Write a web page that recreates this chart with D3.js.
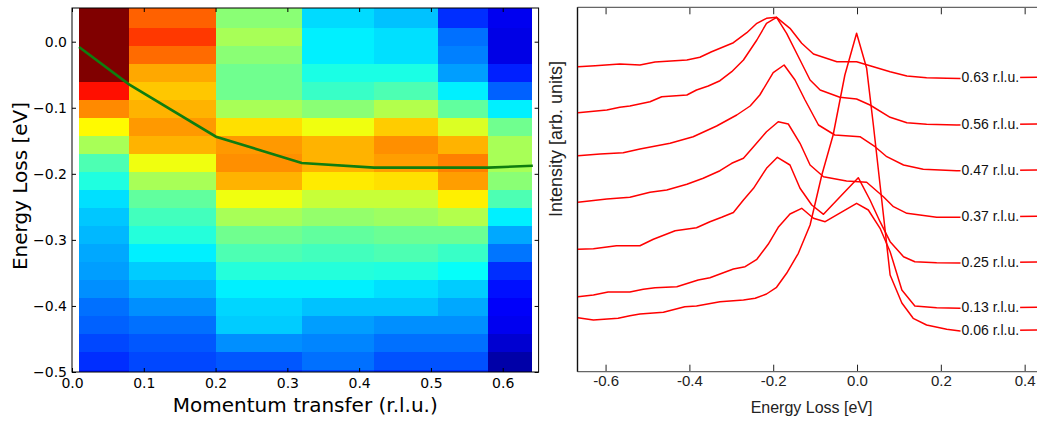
<!DOCTYPE html>
<html>
<head>
<meta charset="utf-8">
<script src="https://cdn.jsdelivr.net/npm/d3@7"></script>
<style>
  body { margin: 0; background: #fff; }
  svg { display: block; }
</style>
</head>
<body>
<svg id="chart" width="1037" height="423"></svg>
<script>
// ---- left panel: intensity map ----
const momentumEdges = [0.0098, 0.0794, 0.2006, 0.32, 0.4207, 0.5095, 0.5796, 0.641];
const energyEdges = [0.052, 0.0212, -0.006, -0.0333, -0.0605, -0.0878, -0.115, -0.1423, -0.1695, -0.1968,
    -0.224, -0.2513, -0.2785, -0.3058, -0.333, -0.3603, -0.3875, -0.4148, -0.442, -0.4693, -0.4965, -0.52];
// one array per momentum column, rows from top (high energy) to bottom, colour value 0..1
const mapColumns = [
    [1.0, 1.0, 1.0, 1.0, 0.86, 0.74, 0.63, 0.54, 0.45, 0.405, 0.345, 0.32, 0.305, 0.29, 0.28, 0.265, 0.235, 0.22, 0.195, 0.17, 0.15],
    [0.78, 0.82, 0.77, 0.71, 0.68, 0.70, 0.725, 0.70, 0.61, 0.54, 0.47, 0.44, 0.41, 0.36, 0.325, 0.30, 0.265, 0.235, 0.21, 0.195, 0.19],
    [0.51, 0.54, 0.51, 0.485, 0.485, 0.54, 0.655, 0.725, 0.735, 0.70, 0.61, 0.54, 0.485, 0.45, 0.41, 0.36, 0.335, 0.325, 0.265, 0.21, 0.17],
    [0.34, 0.36, 0.36, 0.40, 0.43, 0.51, 0.61, 0.70, 0.70, 0.645, 0.57, 0.52, 0.47, 0.44, 0.41, 0.36, 0.315, 0.28, 0.255, 0.235, 0.19],
    [0.315, 0.345, 0.345, 0.40, 0.45, 0.55, 0.675, 0.735, 0.72, 0.655, 0.57, 0.53, 0.48, 0.45, 0.405, 0.345, 0.315, 0.265, 0.235, 0.205, 0.17],
    [0.17, 0.235, 0.25, 0.28, 0.36, 0.47, 0.59, 0.70, 0.75, 0.72, 0.64, 0.55, 0.48, 0.43, 0.38, 0.325, 0.29, 0.265, 0.235, 0.205, 0.17],
    [0.11, 0.10, 0.10, 0.155, 0.22, 0.36, 0.485, 0.54, 0.54, 0.51, 0.45, 0.36, 0.29, 0.24, 0.17, 0.14, 0.12, 0.11, 0.08, 0.04, 0.04]
];
const dispersionQ = [0.0098, 0.0794, 0.2006, 0.32, 0.4207, 0.5095, 0.5796, 0.642];
const dispersionE = [-0.008, -0.0645, -0.1438, -0.1836, -0.1907, -0.1907, -0.1907, -0.1877];
const mapXTicks = [0.0, 0.1, 0.2, 0.3, 0.4, 0.5, 0.6];
const mapYTicks = [0.0, -0.1, -0.2, -0.3, -0.4, -0.5];

// ---- right panel: stacked spectra ----
const spectrumLabels = ["0.63 r.l.u.", "0.56 r.l.u.", "0.47 r.l.u.", "0.37 r.l.u.", "0.25 r.l.u.", "0.13 r.l.u.", "0.06 r.l.u."];
const spectrumE = [
    [-0.666, -0.625, -0.566, -0.518, -0.482, -0.406, -0.375, -0.347, -0.295, -0.263, -0.239, -0.216, -0.192, -0.160, -0.132, -0.104, -0.048, -0.001, 0.031, 0.079, 0.119, 0.166, 0.214, 0.246, 0.45],
    [-0.666, -0.597, -0.566, -0.542, -0.494, -0.466, -0.406, -0.383, -0.355, -0.327, -0.299, -0.271, -0.239, -0.216, -0.192, -0.168, -0.136, -0.112, -0.088, -0.041, -0.001, 0.031, 0.079, 0.119, 0.166, 0.238, 0.45],
    [-0.666, -0.613, -0.558, -0.518, -0.446, -0.391, -0.335, -0.287, -0.255, -0.232, -0.200, -0.174, -0.148, -0.124, -0.092, -0.053, 0.007, 0.043, 0.071, 0.111, 0.158, 0.238, 0.45],
    [-0.666, -0.597, -0.542, -0.494, -0.454, -0.406, -0.367, -0.327, -0.299, -0.271, -0.247, -0.216, -0.188, -0.164, -0.136, -0.112, -0.080, -0.025, 0.023, 0.063, 0.087, 0.119, 0.190, 0.246, 0.45],
    [-0.666, -0.629, -0.574, -0.518, -0.486, -0.434, -0.383, -0.351, -0.323, -0.295, -0.271, -0.247, -0.216, -0.190, -0.160, -0.136, -0.108, -0.080, -0.025, 0.003, 0.031, 0.055, 0.079, 0.111, 0.138, 0.190, 0.246, 0.45],
    [-0.666, -0.629, -0.594, -0.542, -0.510, -0.482, -0.430, -0.379, -0.351, -0.295, -0.267, -0.239, -0.212, -0.188, -0.160, -0.132, -0.104, -0.076, -0.001, 0.027, 0.055, 0.079, 0.107, 0.138, 0.190, 0.246, 0.45],
    [-0.666, -0.629, -0.570, -0.542, -0.518, -0.462, -0.411, -0.383, -0.327, -0.271, -0.243, -0.216, -0.192, -0.168, -0.140, -0.112, -0.084, -0.057, -0.029, -0.001, 0.023, 0.039, 0.055, 0.079, 0.107, 0.134, 0.166, 0.214, 0.246, 0.45]
];
const spectrumI = [
    [305.3, 306.3, 308, 307, 310, 312, 314.7, 320.3, 329.3, 339.3, 348.7, 353.7, 354.7, 343.7, 328.7, 318, 310.3, 310.3, 306.3, 300.3, 296, 294.3, 293.7, 293.5, 295],
    [259.3, 262, 264.7, 266, 270.3, 275.3, 277, 282, 286, 291.3, 300.3, 312, 332, 348.7, 354.7, 338.7, 312, 292, 282, 274.7, 273, 267, 254.7, 249.3, 247.7, 247, 248],
    [216.3, 218, 219.3, 223, 228.7, 235.3, 246, 257, 266, 277, 299.3, 307, 292, 272, 247, 237, 235.3, 225.3, 215.3, 207, 202.7, 201.3, 202],
    [169.7, 173, 174.7, 179.7, 182, 187.7, 193.7, 201.3, 208.7, 213.7, 225.3, 240.3, 250.3, 248, 228.7, 207, 195.3, 191, 189.7, 175.3, 165.3, 158.7, 154.7, 154.7, 156],
    [122.7, 123.3, 126.3, 126.3, 132.7, 141.3, 144.3, 150.3, 154.7, 159.5, 172, 183.7, 203.7, 214.7, 207, 183.7, 167, 157.7, 182, 194.3, 172, 150.3, 130.3, 115.3, 110.3, 109.3, 109, 110],
    [75.3, 77, 80, 80, 82.7, 84.3, 85.3, 92, 94.3, 103, 105.3, 112.7, 127.7, 144.7, 158, 163.7, 153.7, 150.3, 168.7, 162, 143.7, 120.3, 82, 66, 64.3, 63.7, 65],
    [54.3, 52, 53.7, 56.3, 58, 59.7, 65.3, 66, 70.3, 72, 73.7, 78, 84.7, 98.7, 118.7, 147, 197, 237, 297, 338.7, 303.7, 247, 187, 97, 69, 53.7, 47, 42.7, 41, 42]
];
const spectrumLabelE = 0.247;
const spectrumXTicks = [-0.6, -0.4, -0.2, 0.0, 0.2, 0.4];

const svg = d3.select("#chart");

// jet colour map
function jet(v) {
    const c = x => Math.max(0, Math.min(1, x));
    const r = c(1.5 - Math.abs(4 * v - 3));
    const g = c(1.5 - Math.abs(4 * v - 2));
    const b = c(1.5 - Math.abs(4 * v - 1));
    return d3.rgb(r * 255, g * 255, b * 255).toString();
}

// ---------- left panel ----------
const L = {left: 72, right: 538.6, top: 8, bottom: 372};
const xL = d3.scaleLinear().domain([0, 0.65]).range([L.left, L.right]);
const yL = d3.scaleLinear().domain([-0.5, 0.051]).range([L.bottom, L.top]);
const fontL = "DejaVu Sans, sans-serif";
const fontR = "Liberation Sans, Arial, sans-serif";

svg.append("clipPath").attr("id", "clipL")
    .append("rect").attr("x", L.left).attr("y", L.top)
    .attr("width", L.right - L.left).attr("height", L.bottom - L.top);

const mapG = svg.append("g").attr("clip-path", "url(#clipL)");
mapColumns.forEach((col, c) => {
    mapG.selectAll(null)
        .data(col)
        .enter()
        .append("rect")
        .attr("x", xL(momentumEdges[c]))
        .attr("width", xL(momentumEdges[c + 1]) - xL(momentumEdges[c]))
        .attr("y", (d, r) => yL(energyEdges[r]))
        .attr("height", (d, r) => yL(energyEdges[r + 1]) - yL(energyEdges[r]) + 0.3)
        .attr("fill", d => jet(d))
        .attr("shape-rendering", "crispEdges");
});

mapG.append("path")
    .datum(dispersionQ.map((q, i) => [q, dispersionE[i]]))
    .attr("fill", "none")
    .attr("stroke", "#0f7d0f")
    .attr("stroke-width", 2.6)
    .attr("d", d3.line().x(d => xL(d[0])).y(d => yL(d[1])));

const fmtL = d3.format(".1f");
function styleAxis(g, family, size, color) {
    g.select(".domain").remove();
    g.selectAll("text")
        .style("font-family", family)
        .style("font-size", size + "px")
        .attr("fill", color);
    g.selectAll(".tick line").attr("stroke", color);
}
svg.append("g").attr("transform", `translate(0,${L.bottom})`)
    .call(d3.axisBottom(xL).tickValues(mapXTicks).tickFormat(fmtL).tickSizeInner(-4).tickSizeOuter(0).tickPadding(6))
    .call(g => styleAxis(g, fontL, 14, "#000"));
svg.append("g").attr("transform", `translate(0,${L.top})`)
    .call(d3.axisTop(xL).tickValues(mapXTicks).tickFormat("").tickSizeInner(-4).tickSizeOuter(0))
    .call(g => styleAxis(g, fontL, 14, "#000"));
svg.append("g").attr("transform", `translate(${L.left},0)`)
    .call(d3.axisLeft(yL).tickValues(mapYTicks).tickFormat(fmtL).tickSizeInner(-4).tickSizeOuter(0).tickPadding(5))
    .call(g => styleAxis(g, fontL, 14, "#000"));
svg.append("g").attr("transform", `translate(${L.right},0)`)
    .call(d3.axisRight(yL).tickValues(mapYTicks).tickFormat("").tickSizeInner(-4).tickSizeOuter(0))
    .call(g => styleAxis(g, fontL, 14, "#000"));

svg.append("rect")
    .attr("x", L.left).attr("y", L.top)
    .attr("width", L.right - L.left).attr("height", L.bottom - L.top)
    .attr("fill", "none").attr("stroke", "#000").attr("stroke-width", 1);

svg.append("text")
    .attr("x", (L.left + L.right) / 2).attr("y", 412)
    .attr("text-anchor", "middle")
    .style("font-family", fontL).style("font-size", "20px")
    .text("Momentum transfer (r.l.u.)");
svg.append("text")
    .attr("transform", "translate(27,186) rotate(-90)")
    .attr("text-anchor", "middle")
    .style("font-family", fontL).style("font-size", "20px")
    .text("Energy Loss [eV]");

// ---------- right panel ----------
const R = {left: 577.5, right: 1045.6, top: 7.3, bottom: 371.7};
const xR = d3.scaleLinear().domain([-0.667, 0.45]).range([R.left, R.right]);
const yR = d3.scaleLinear().domain([0, 365]).range([372, 7]);

svg.append("g").attr("transform", `translate(0,${R.bottom})`)
    .call(d3.axisBottom(xR).tickValues(spectrumXTicks).tickFormat(d => d.toFixed(1)).tickSizeInner(-7).tickSizeOuter(0).tickPadding(4))
    .call(g => styleAxis(g, fontR, 15, "#222"));
svg.append("g").attr("transform", `translate(0,${R.top})`)
    .call(d3.axisTop(xR).tickValues(spectrumXTicks).tickFormat("").tickSizeInner(-7).tickSizeOuter(0))
    .call(g => styleAxis(g, fontR, 15, "#222"));

svg.append("line").attr("x1", R.left).attr("x2", R.right).attr("y1", R.top).attr("y2", R.top)
    .attr("stroke", "#666").attr("stroke-width", 1.2);
svg.append("line").attr("x1", R.left).attr("x2", R.right).attr("y1", R.bottom).attr("y2", R.bottom)
    .attr("stroke", "#666").attr("stroke-width", 1.2);
svg.append("line").attr("x1", R.left).attr("x2", R.left).attr("y1", R.top).attr("y2", R.bottom)
    .attr("stroke", "#111").attr("stroke-width", 1.4);

const specLine = d3.line().x(d => xR(d[0])).y(d => yR(d[1]));
const specG = svg.append("g");
spectrumE.forEach((es, k) => {
    specG.append("path")
        .datum(es.map((e, i) => [e, spectrumI[k][i]]))
        .attr("fill", "none")
        .attr("stroke", "#ff0000")
        .attr("stroke-width", 1.5)
        .attr("stroke-linejoin", "round")
        .attr("d", specLine);
});

spectrumLabels.forEach((lab, k) => {
    const vals = spectrumI[k];
    const y = yR(vals[vals.length - 1]);
    const g = specG.append("g");
    const t = g.append("text")
        .attr("x", xR(spectrumLabelE) + 1).attr("y", y).attr("dy", "0.36em")
        .style("font-family", fontR).style("font-size", "14px")
        .attr("fill", "#111")
        .text(lab);
    const bb = t.node().getBBox();
    g.insert("rect", "text")
        .attr("x", bb.x - 1).attr("y", bb.y)
        .attr("width", bb.width + 2).attr("height", bb.height)
        .attr("fill", "#fff");
});

svg.append("text")
    .attr("x", (R.left + R.right) / 2).attr("y", 413)
    .attr("text-anchor", "middle")
    .style("font-family", fontR).style("font-size", "16px")
    .attr("fill", "#222")
    .text("Energy Loss [eV]");
svg.append("text")
    .attr("transform", "translate(562,139) rotate(-90)")
    .attr("text-anchor", "middle")
    .style("font-family", fontR).style("font-size", "18px")
    .attr("fill", "#222")
    .text("Intensity [arb. units]");
</script>
</body>
</html>
